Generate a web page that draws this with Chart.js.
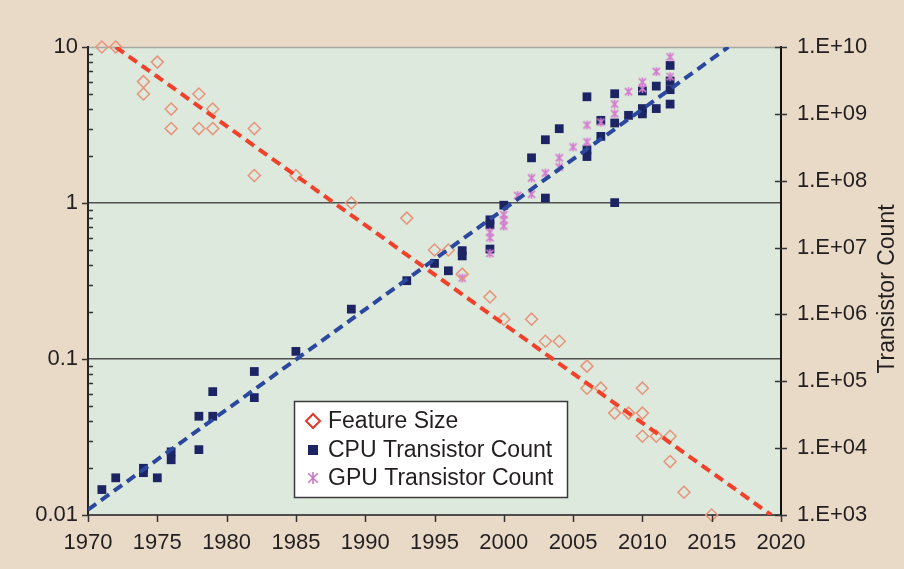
<!DOCTYPE html>
<html>
<head>
<meta charset="utf-8">
<script src="https://cdn.jsdelivr.net/npm/chart.js@4/dist/chart.umd.min.js"></script>
<style>
  html, body { margin: 0; padding: 0; background: #e9dac7; }
  #wrap { width: 904px; height: 569px; position: relative; }
</style>
</head>
<body>
<div id="wrap"><canvas id="c" width="904" height="569"></canvas></div>
<script>
// Feature size (micrometres) by year
const featureYears = [1971, 1972, 1974, 1974, 1975, 1976, 1976, 1978, 1978, 1979, 1979, 1982, 1982, 1985,
  1989, 1993, 1995, 1996, 1997, 1999, 2000, 2002, 2003, 2004, 2006, 2006, 2007, 2008, 2009,
  2010, 2010, 2010, 2011, 2012, 2012, 2013, 2015];
const featureSizes = [10, 10, 6, 5, 8, 4, 3, 5, 3, 4, 3, 3, 1.5, 1.5,
  1.0, 0.8, 0.5, 0.5, 0.35, 0.25, 0.18, 0.18, 0.13, 0.13, 0.09, 0.065, 0.065, 0.045, 0.045,
  0.065, 0.045, 0.032, 0.032, 0.032, 0.022, 0.014, 0.01];

// CPU transistor counts by year
const cpuYears = [1971, 1972, 1974, 1974, 1975, 1976, 1976, 1978, 1978, 1979, 1979, 1982, 1982, 1985,
  1989, 1993, 1995, 1996, 1997, 1997, 1999, 1999, 1999, 2000, 2002, 2003, 2003, 2004,
  2006, 2006, 2006, 2007, 2007, 2008, 2008, 2008, 2009, 2010, 2010, 2010,
  2011, 2011, 2012, 2012, 2012, 2012];
const cpuCounts = [2.4e3, 3.6e3, 5.0e3, 4.3e3, 3.6e3, 8.8e3, 6.7e3, 3.0e4, 9.5e3, 7.0e4, 3.0e4, 1.4e5, 5.7e4, 2.8e5,
  1.2e6, 3.2e6, 5.8e6, 4.5e6, 9.0e6, 7.5e6, 2.6e7, 2.2e7, 9.5e6, 4.3e7, 2.2e8, 4.1e8, 5.5e7, 6.0e8,
  1.8e9, 2.9e8, 2.3e8, 8.0e8, 4.6e8, 2.0e9, 7.3e8, 4.7e7, 9.5e8, 2.2e9, 1.2e9, 1.0e9,
  2.6e9, 1.2e9, 5.3e9, 3.1e9, 2.3e9, 1.4e9];

// GPU transistor counts by year
const gpuYears = [1997, 1999, 1999, 1999, 2000, 2000, 2000, 2001, 2002, 2002, 2003, 2004, 2004, 2005,
  2006, 2006, 2007, 2008, 2008, 2009, 2010, 2010, 2011, 2012, 2012];
const gpuCounts = [3.5e6, 1.7e7, 1.4e7, 8.2e6, 3.1e7, 2.6e7, 2.1e7, 6.0e7, 1.1e8, 6.3e7, 1.3e8, 2.2e8, 1.6e8, 3.2e8,
  6.8e8, 3.8e8, 7.5e8, 1.4e9, 1.0e9, 2.15e9, 3.0e9, 2.4e9, 4.3e9, 7.1e9, 3.6e9];

// Trend lines (end points)
const featureTrendYears = [1972, 2019.3];
const featureTrendSizes = [10, 0.01];
const countTrendYears = [1970, 2016.2];
const countTrendValues = [1.2e3, 1e10];

// Axis ticks
const yearTicks = [1970, 1975, 1980, 1985, 1990, 1995, 2000, 2005, 2010, 2015, 2020];
const sizeTickValues = [0.01, 0.1, 1, 10];
const sizeTickLabels = ['0.01', '0.1', '1', '10'];
const countTickValues = [1e3, 1e4, 1e5, 1e6, 1e7, 1e8, 1e9, 1e10];
const countTickLabels = ['1.E+03', '1.E+04', '1.E+05', '1.E+06', '1.E+07', '1.E+08', '1.E+09', '1.E+10'];
const sizeGridValues = [0.1, 1];

const legendLabels = ['Feature Size', 'CPU Transistor Count', 'GPU Transistor Count'];
const rightTitle = 'Transistor Count';

const FONT = "'Liberation Sans', Arial, Helvetica, sans-serif";
const TEXT = '#231f20';
const DIAMOND = '#e8937a';
const SQUARE = '#1c2463';
const GPU = '#d37ccd';
const RED_TREND = '#f2402a';
const BLUE_TREND = '#2b479e';

const toPoints = (xs, ys) => xs.map((x, i) => ({ x, y: ys[i] }));

// asterisk marker (x plus vertical stroke)
function asterisk(color, size, lw) {
  const c = document.createElement('canvas');
  c.width = size; c.height = size;
  const g = c.getContext('2d');
  g.strokeStyle = color; g.lineWidth = lw; g.lineCap = 'butt';
  const m = size / 2, r = size / 2 - 1;
  g.beginPath();
  g.moveTo(m - r * 0.8, m - r * 0.8); g.lineTo(m + r * 0.8, m + r * 0.8);
  g.moveTo(m + r * 0.8, m - r * 0.8); g.lineTo(m - r * 0.8, m + r * 0.8);
  g.moveTo(m, m - r); g.lineTo(m, m + r);
  g.stroke();
  return c;
}
const gpuMarker = asterisk(GPU, 11, 1.6);

function drawAsterisk(ctx, x, y, r, color, lw) {
  ctx.save();
  ctx.strokeStyle = color; ctx.lineWidth = lw;
  ctx.beginPath();
  ctx.moveTo(x - r * 0.8, y - r * 0.8); ctx.lineTo(x + r * 0.8, y + r * 0.8);
  ctx.moveTo(x + r * 0.8, y - r * 0.8); ctx.lineTo(x - r * 0.8, y + r * 0.8);
  ctx.moveTo(x, y - r); ctx.lineTo(x, y + r);
  ctx.stroke();
  ctx.restore();
}

const decorations = {
  id: 'decorations',
  beforeDraw(chart) {
    const { ctx, chartArea: a } = chart;
    ctx.save();
    ctx.fillStyle = '#e9dac7';
    ctx.fillRect(0, 0, chart.width, chart.height);
    ctx.fillStyle = '#dce9dc';
    ctx.fillRect(a.left, a.top, a.right - a.left, a.bottom - a.top);
    ctx.strokeStyle = 'rgba(120,120,120,0.55)';
    ctx.lineWidth = 1.5;
    ctx.beginPath();
    ctx.moveTo(a.left, a.top + 0.5); ctx.lineTo(a.right, a.top + 0.5);
    ctx.stroke();
    ctx.restore();
  },
  afterDraw(chart) {
    const { ctx, chartArea: a, scales } = chart;
    const x = scales.x, yl = scales.ySize, yr = scales.yCount;
    ctx.save();
    ctx.strokeStyle = '#333';
    ctx.lineWidth = 1.5;
    ctx.beginPath();
    // year ticks below the axis
    yearTicks.forEach(v => {
      const px = Math.round(x.getPixelForValue(v)) + 0.5;
      ctx.moveTo(px, a.bottom); ctx.lineTo(px, a.bottom + 7);
    });
    // major feature-size ticks outside, minor ticks inside
    sizeTickValues.forEach((v, i) => {
      const py = Math.round(yl.getPixelForValue(v)) + 0.5;
      ctx.moveTo(a.left - 6, py); ctx.lineTo(a.left, py);
      if (i < sizeTickValues.length - 1) {
        for (let k = 2; k <= 9; k++) {
          const pm = Math.round(yl.getPixelForValue(v * k)) + 0.5;
          ctx.moveTo(a.left, pm); ctx.lineTo(a.left + 5, pm);
        }
      }
    });
    // transistor ticks crossing the right axis
    countTickValues.forEach(v => {
      const py = Math.round(yr.getPixelForValue(v)) + 0.5;
      ctx.moveTo(a.right - 6, py); ctx.lineTo(a.right + 6, py);
    });
    ctx.stroke();

    // right-hand axis title, reading upward
    ctx.fillStyle = TEXT;
    ctx.font = '23px ' + FONT;
    ctx.textAlign = 'center';
    ctx.textBaseline = 'middle';
    ctx.translate(888, 289);
    ctx.rotate(-Math.PI / 2);
    ctx.fillText(rightTitle, 0, 0);
    ctx.setTransform(1, 0, 0, 1, 0, 0);

    // legend box
    const lx = 294, ly = 401, lw = 273, lh = 96;
    ctx.fillStyle = '#ffffff';
    ctx.fillRect(lx, ly, lw, lh);
    ctx.strokeStyle = '#3a3a3a';
    ctx.lineWidth = 1.5;
    ctx.strokeRect(lx + 0.5, ly + 0.5, lw, lh);
    const rows = [421, 450, 478];
    // diamond
    ctx.strokeStyle = '#e2372b';
    ctx.lineWidth = 2;
    ctx.beginPath();
    ctx.moveTo(313, rows[0] - 7); ctx.lineTo(320, rows[0]);
    ctx.lineTo(313, rows[0] + 7); ctx.lineTo(306, rows[0]);
    ctx.closePath(); ctx.stroke();
    // square
    ctx.fillStyle = SQUARE;
    ctx.fillRect(308, rows[1] - 5, 10, 10);
    // asterisk
    drawAsterisk(ctx, 313, rows[2], 6, '#c978c4', 1.6);
    ctx.fillStyle = TEXT;
    ctx.font = '23px ' + FONT;
    ctx.textAlign = 'left';
    ctx.textBaseline = 'middle';
    legendLabels.forEach((t, i) => ctx.fillText(t, 328, rows[i] + 1));
    ctx.restore();
  }
};

new Chart(document.getElementById('c'), {
  type: 'scatter',
  data: {
    datasets: [
      {
        label: 'Feature size trend',
        data: toPoints(featureTrendYears, featureTrendSizes),
        yAxisID: 'ySize',
        showLine: true,
        borderColor: RED_TREND,
        borderWidth: 4,
        borderDash: [10, 6],
        pointRadius: 0,
        fill: false
      },
      {
        label: 'Transistor count trend',
        data: toPoints(countTrendYears, countTrendValues),
        yAxisID: 'yCount',
        showLine: true,
        borderColor: BLUE_TREND,
        borderWidth: 4,
        borderDash: [10, 6],
        pointRadius: 0,
        fill: false
      },
      {
        label: legendLabels[0],
        data: toPoints(featureYears, featureSizes),
        yAxisID: 'ySize',
        pointStyle: 'rectRot',
        pointRadius: 6,
        pointBorderColor: DIAMOND,
        pointBackgroundColor: 'rgba(0,0,0,0)',
        pointBorderWidth: 1.5,
        clip: false
      },
      {
        label: legendLabels[2],
        data: toPoints(gpuYears, gpuCounts),
        yAxisID: 'yCount',
        pointStyle: gpuMarker,
        pointRadius: 5,
        clip: false
      },
      {
        label: legendLabels[1],
        data: toPoints(cpuYears, cpuCounts),
        yAxisID: 'yCount',
        pointStyle: 'rect',
        pointRadius: 6.2,
        pointBorderWidth: 0,
        pointBackgroundColor: SQUARE,
        pointBorderColor: SQUARE,
        clip: false
      }
    ]
  },
  options: {
    responsive: false,
    animation: false,
    devicePixelRatio: 1,
    layout: { padding: { top: 47, left: 0, right: 0, bottom: 0 } },
    plugins: { legend: { display: false }, tooltip: { enabled: false } },
    scales: {
      x: {
        type: 'linear',
        min: 1970,
        max: 2020,
        afterBuildTicks: s => { s.ticks = yearTicks.map(value => ({ value })); },
        afterFit: s => { s.height = 54; },
        grid: { display: false, drawTicks: false },
        border: { display: true, color: '#4d4d4d', width: 2 },
        ticks: {
          padding: 15,
          color: TEXT,
          font: { family: FONT, size: 22 },
          maxRotation: 0,
          autoSkip: false,
          callback: v => String(v)
        }
      },
      ySize: {
        type: 'logarithmic',
        position: 'left',
        min: 0.01,
        max: 10,
        afterBuildTicks: s => { s.ticks = sizeTickValues.map(value => ({ value })); },
        afterFit: s => { s.width = 88; },
        grid: {
          display: true,
          drawTicks: false,
          color: c => (c.tick && sizeGridValues.includes(c.tick.value)) ? '#4f4f4f' : 'rgba(0,0,0,0)',
          lineWidth: 1.4
        },
        border: { display: true, color: '#222', width: 2 },
        ticks: {
          padding: 10,
          color: TEXT,
          font: { family: FONT, size: 22 },
          autoSkip: false,
          callback: v => sizeTickLabels[sizeTickValues.indexOf(v)]
        }
      },
      yCount: {
        type: 'logarithmic',
        position: 'right',
        min: 1e3,
        max: 1e10,
        afterBuildTicks: s => { s.ticks = countTickValues.map(value => ({ value })); },
        afterFit: s => { s.width = 123; },
        grid: { display: false, drawTicks: false },
        border: { display: true, color: '#111', width: 2 },
        ticks: {
          padding: 16,
          color: TEXT,
          font: { family: FONT, size: 22 },
          autoSkip: false,
          callback: v => countTickLabels[countTickValues.indexOf(v)]
        }
      }
    }
  },
  plugins: [decorations]
});
</script>
</body>
</html>
